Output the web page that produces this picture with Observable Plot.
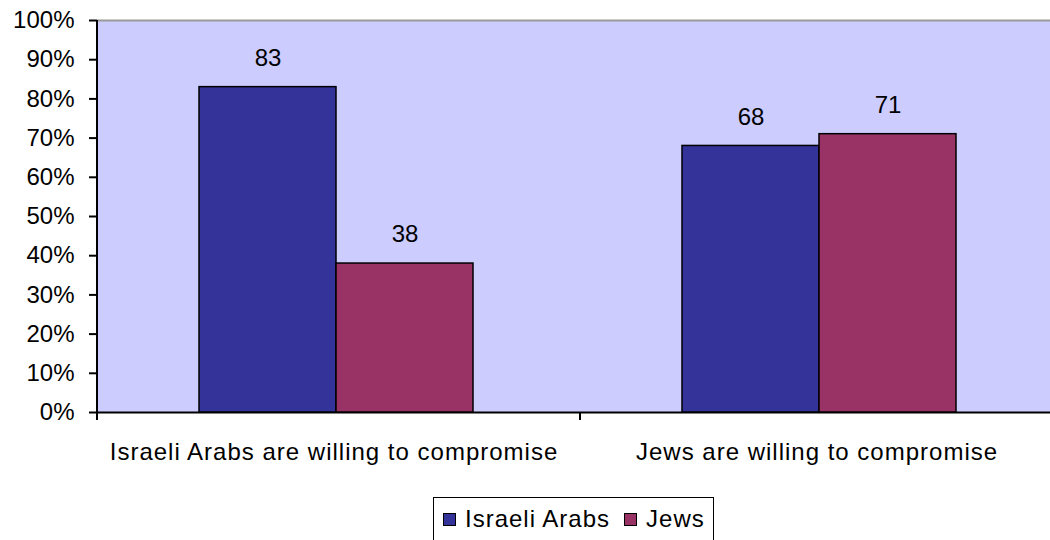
<!DOCTYPE html>
<html><head><meta charset="utf-8">
<script src="https://cdn.jsdelivr.net/npm/d3@7"></script>
<script src="https://cdn.jsdelivr.net/npm/@observablehq/plot@0.6"></script>
<style>
html,body{margin:0;padding:0;background:#fff;overflow:hidden;width:1050px;height:540px}
#chart{position:absolute;left:0;top:0}
#chart svg{max-width:none !important}
#legend{position:absolute;left:433px;top:497px;height:60px;border:1.5px solid #000;background:#fff;font-family:"Liberation Sans",Arial,sans-serif;font-size:24px;letter-spacing:1px;color:#000;display:flex;align-items:flex-start;padding:6px 8px 0 9px;box-sizing:border-box;gap:14px}
#legend .item{display:flex;align-items:center;gap:9px;line-height:30px}
#legend .sw{width:11px;height:11px;border:1.5px solid #000}
.fxlab text{letter-spacing:1px}
</style></head><body>
<div id="chart"></div><div id="legend"></div>
<script>
const categories = ["Israeli Arabs are willing to compromise", "Jews are willing to compromise"];
const series = ["Israeli Arabs", "Jews"];
const israeliArabs = [83, 68];
const jews = [38, 71];
const yTicks = [0, 10, 20, 30, 40, 50, 60, 70, 80, 90, 100];
const colors = ["#333399", "#993366"];

const data = categories.flatMap((c, i) => [
  {category: c, series: series[0], value: israeliArabs[i]},
  {category: c, series: series[1], value: jews[i]}
]);

const plot = Plot.plot({
  width: 1063, height: 475,
  marginLeft: 97, marginRight: 0, marginTop: 20, marginBottom: 63,
  style: {fontFamily: "'Liberation Sans', Arial, sans-serif", fontSize: "24px", color: "#000", background: "transparent", overflow: "visible", maxWidth: "none"},
  fx: {domain: categories, padding: 0, label: null},
  x: {domain: series, paddingInner: 0, paddingOuter: 0.7565, align: 0.49, axis: null},
  y: {domain: [0, 100], label: null},
  color: {domain: series, range: colors},
  marks: [
    Plot.frame({fill: "#CCCCFF", stroke: null, shapeRendering: "crispEdges"}),
    Plot.ruleY([100], {stroke: "#999", strokeWidth: 2}),
    Plot.ruleY([0], {stroke: "#000", strokeWidth: 2}),
    Plot.barY(data, {fx: "category", x: "series", y: "value", fill: "series", stroke: "#000", strokeWidth: 1.5}),
    Plot.text(data, {fx: "category", x: "series", y: "value", text: d => String(d.value), dy: -29, fontSize: 24, fill: "#000"}),
    Plot.axisY({ticks: yTicks, tickSize: 8, tickPadding: 15, tickFormat: d => d + "%", label: null, strokeWidth: 2, fontSize: 24}),
    Plot.axisFx({anchor: "bottom", tickSize: 0, tickPadding: 30, dx: -5, label: null, fontSize: 24, className: "fxlab"})
  ]
});
document.getElementById("chart").appendChild(plot);

// axis line and category boundary ticks through the plot's own scales
const fx = plot.scale("fx");
const ys = plot.scale("y");
const yBottom = ys.apply(0), yTop = ys.apply(100);
const bounds = fx.domain.map(c => fx.apply(c));
bounds.push(fx.apply(fx.domain[fx.domain.length - 1]) + fx.bandwidth);
const g = d3.select(plot).append("g").attr("stroke", "#000").attr("stroke-width", 2);
g.append("line").attr("x1", bounds[0]).attr("x2", bounds[0]).attr("y1", yTop).attr("y2", yBottom + 8);
bounds.forEach(b => g.append("line").attr("x1", b).attr("x2", b).attr("y1", yBottom).attr("y2", yBottom + 8));

// legend
const legend = d3.select("#legend");
series.forEach((s, i) => {
  const it = legend.append("div").attr("class", "item");
  it.append("div").attr("class", "sw").style("background", colors[i]);
  it.append("span").text(s);
});
</script>
</body></html>
